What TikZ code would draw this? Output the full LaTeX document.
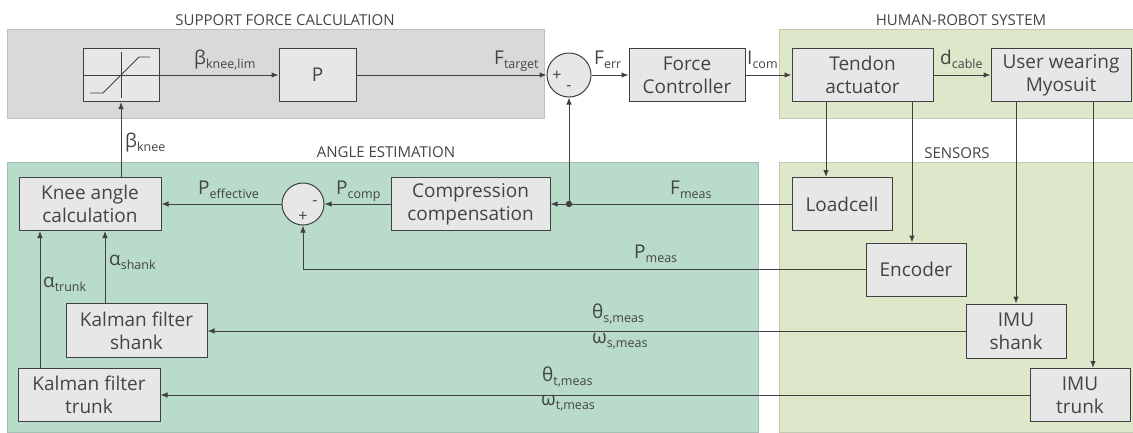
\documentclass[tikz,border=0pt]{standalone}
\usepackage{fontspec}
\setmainfont{Open Sans}
\usetikzlibrary{arrows.meta,calc}

\definecolor{ink}{HTML}{444444}
\definecolor{linec}{HTML}{404040}
\definecolor{boxfill}{HTML}{E7E7E7}
\definecolor{sfcfill}{HTML}{D9D9D9}
\definecolor{aefill}{HTML}{B8DBCA}
\definecolor{hrsfill}{HTML}{DDE7CA}

% signal name with a lowered subscript
\newcommand{\sgn}[2]{#1\raisebox{-4pt}{\fontsize{12.5}{12.5}\selectfont #2}}

\begin{document}
\begin{tikzpicture}[x=1pt,y=-1pt,
  blockbox/.style={draw=linec, fill=boxfill, line width=1pt, align=center,
    text=ink, font=\fontsize{19}{23}\selectfont, inner sep=0pt, minimum height=53pt},
  sumnode/.style={circle, draw=linec, fill=boxfill, line width=1pt,
    minimum size=#1, inner sep=0pt},
  flow/.style={draw=linec, line width=1pt, -{Latex[length=7pt,width=5.5pt]}},
  lbl/.style={text=ink, font=\fontsize{19}{19}\selectfont, inner sep=0pt, anchor=base west},
  signtxt/.style={text=ink, font=\fontsize{16}{16}\selectfont, inner sep=0pt},
  areatitle/.style={text=ink, font=\fontsize{15}{15}\selectfont, inner sep=0pt},
  area/.style={fill=#1, draw=#1!88!black, line width=0.5pt}
]
\useasboundingbox (0,0) rectangle (1133,432);

% ---- shaded areas ----
\path[area=sfcfill] (7,29) rectangle (544,118);
\path[area=hrsfill] (779,29) rectangle (1133,118);
\path[area=aefill] (7,162) rectangle (758,432);
\path[area=hrsfill] (779,162) rectangle (1133,432);

\node[areatitle] (tsfc) at (285,20) {SUPPORT FORCE CALCULATION};
\node[areatitle] (thrs) at (961,20) {HUMAN-ROBOT SYSTEM};
\node[areatitle] (tae)  at (386,152) {ANGLE ESTIMATION};
\node[areatitle] (tsen) at (957,153) {SENSORS};

% ---- top row ----
\node[blockbox, minimum width=76pt] (sat) at (121,75) {};
\node[blockbox, minimum width=77pt] (pgain) at (317.5,75) {P};
\node[sumnode=44pt] (sum1) at (569,75) {};
\node[blockbox, minimum width=116pt] (fc) at (687,75) {Force\\Controller};
\node[blockbox, minimum width=141pt] (ta) at (862.5,75) {Tendon\\actuator};
\node[blockbox, minimum width=140pt] (user) at (1061,75) {User wearing\\Myosuit};

% saturation characteristic
\draw[linec, line width=0.9pt] (sat.west) -- (sat.east);
\draw[linec, line width=0.9pt] (121,52) -- (121,98);
\draw[linec, line width=0.9pt] (90,93) -- (103,93) -- (139,57) -- (150,57);

% ---- middle row ----
\node[blockbox, minimum width=142pt] (knee) at (90,204) {Knee angle\\calculation};
\node[sumnode=42pt] (sum2) at (303,204) {};
\node[blockbox, minimum width=159pt] (comp) at (470.5,204) {Compression\\compensation};
\node[blockbox, minimum width=100pt] (load) at (842,204) {Loadcell};
\node[blockbox, minimum width=100pt] (enc) at (916,269.5) {Encoder};

% ---- lower rows ----
\node[blockbox, minimum width=141pt, minimum height=54pt] (kfs) at (136.5,330.5) {Kalman filter\\shank};
\node[blockbox, minimum width=142pt] (kft) at (89,394.5) {Kalman filter\\trunk};
\node[blockbox, minimum width=100pt, minimum height=54pt] (imus) at (1016,331) {IMU\\shank};
\node[blockbox, minimum width=100pt] (imut) at (1080,395) {IMU\\trunk};

% signs in the summing junctions
\node[signtxt] (s1p) at (557,76) {+};
\node[signtxt] (s1m) at (569,88) {-};
\node[signtxt] (s2m) at (315,203) {-};
\node[signtxt] (s2p) at (303,217) {+};

% ---- connectors ----
\draw[flow] (sat.east) -- (pgain.west);
\draw[flow] (pgain.east) -- (sum1.west);
\draw[flow] (sum1.east) -- (fc.west);
\draw[flow] (fc.east) -- (ta.west);
\draw[flow] (ta.east) -- (user.west);

\draw[flow] ([xshift=-36.5pt]ta.south) -- ([xshift=-36.5pt]ta.south |- load.north);
\draw[flow] ([xshift=49.5pt]ta.south) -- ([xshift=49.5pt]ta.south |- enc.north);
\draw[flow] (imus.north |- user.south) -- (imus.north);
\draw[flow] ([xshift=13pt]imut.north |- user.south) -- ([xshift=13pt]imut.north);

\draw[flow] (load.west) -- (comp.east);
\coordinate (fbranch) at (sum1.south |- load.west);
\fill[linec] (fbranch) circle (3.2pt);
\draw[flow] (fbranch) -- (sum1.south);

\draw[flow] (comp.west) -- (sum2.east);
\draw[flow] (sum2.west) -- (knee.east);
\draw[flow] (enc.west) -| (sum2.south);

\draw[flow] ([xshift=31pt]knee.north) -- (sat.south);
\draw[flow] ([xshift=-31.5pt]kfs.north) -- ([xshift=-31.5pt]kfs.north |- knee.south);
\draw[flow] ([xshift=-49pt]kft.north) -- ([xshift=-49pt]kft.north |- knee.south);

\draw[flow] (imus.west) -- (imus.west -| kfs.east);
\draw[flow] (imut.west) -- (imut.west -| kft.east);

% ---- signal labels ----
\node[lbl] (lbkl) at (194,64) {\sgn{β}{knee,lim}};
\node[lbl] (lft)  at (494,64) {\sgn{F}{target}};
\node[lbl] (lfe)  at (594,64) {\sgn{F}{err}};
\node[lbl] (lic)  at (747,64) {\sgn{I}{com}};
\node[lbl] (ldc)  at (940,64) {\sgn{d}{cable}};
\node[lbl] (lbk)  at (125,147) {\sgn{β}{knee}};
\node[lbl] (lpe)  at (198,194) {\sgn{P}{effective}};
\node[lbl] (lpc)  at (336,194) {\sgn{P}{comp}};
\node[lbl] (lfm)  at (670,194) {\sgn{F}{meas}};
\node[lbl] (lpm)  at (634,258) {\sgn{P}{meas}};
\node[lbl] (las)  at (109,265) {\sgn{α}{shank}};
\node[lbl] (lat)  at (43,287) {\sgn{α}{trunk}};
\node[lbl] (lts)  at (592,318) {\sgn{θ}{s,meas}};
\node[lbl] (lws)  at (592,343) {\sgn{ω}{s,meas}};
\node[lbl] (ltt)  at (542,381) {\sgn{θ}{t,meas}};
\node[lbl] (lwt)  at (541,405) {\sgn{ω}{t,meas}};
\end{tikzpicture}
\end{document}
